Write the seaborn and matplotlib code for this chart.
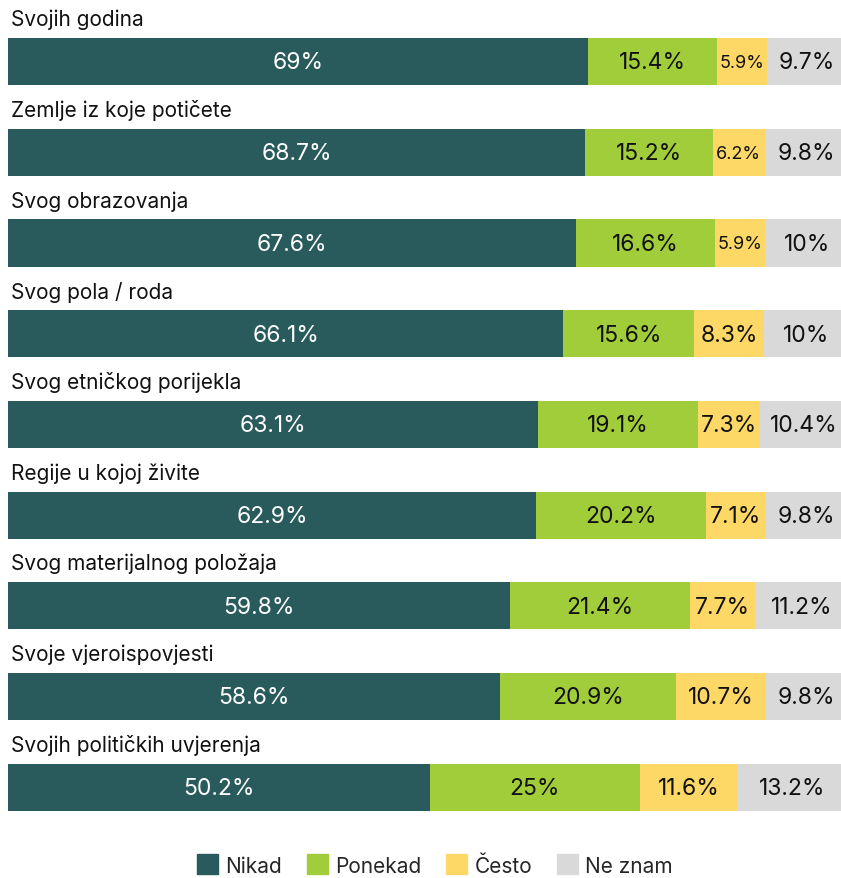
import numpy as np
import pandas as pd
import matplotlib
matplotlib.use("Agg")
import matplotlib.pyplot as plt
import matplotlib.patches as mpatches
import seaborn as sns

# ============================================
# DATA
# ============================================

categories = [
    "Svojih godina",
    "Zemlje iz koje potičete",
    "Svog obrazovanja",
    "Svog pola / roda",
    "Svog etničkog porijekla",
    "Regije u kojoj živite",
    "Svog materijalnog položaja",
    "Svoje vjeroispovjesti",
    "Svojih političkih uvjerenja",
]
nikad = [69, 68.7, 67.6, 66.1, 63.1, 62.9, 59.8, 58.6, 50.2]
ponekad = [15.4, 15.2, 16.6, 15.6, 19.1, 20.2, 21.4, 20.9, 25]
cesto = [5.9, 6.2, 5.9, 8.3, 7.3, 7.1, 7.7, 10.7, 11.6]
ne_znam = [9.7, 9.8, 10, 10, 10.4, 9.8, 11.2, 9.8, 13.2]

series_names = ["Nikad", "Ponekad", "Često", "Ne znam"]
colors = ["#2a5b5c", "#a2cd3a", "#fed866", "#d9d9d9"]
text_colors = ["white", "#111111", "#111111", "#111111"]

# ============================================
# BUILD TABLE
# ============================================

df = pd.DataFrame({
    "category": categories,
    "Nikad": nikad,
    "Ponekad": ponekad,
    "Često": cesto,
    "Ne znam": ne_znam,
})
cum = df[series_names].cumsum(axis=1)
starts = cum - df[series_names]

sns.set_style("white")
plt.rcParams["font.family"] = ["Inter", "DejaVu Sans"]

W, H = 841, 879
fig = plt.figure(figsize=(W / 100, H / 100), dpi=100)
ax = fig.add_axes([8 / W, (H - 840) / H, 840 / W, 840 / H])

# stacked bars: draw cumulative totals from the back to the front
for name, color in reversed(list(zip(series_names, colors))):
    sns.barplot(
        x=cum[name],
        y=df["category"],
        orient="h",
        color=color,
        width=0.52,
        saturation=1,
        linewidth=0,
        ax=ax,
    )

# value labels
for i in range(len(df)):
    for name, tc in zip(series_names, text_colors):
        v = df.loc[i, name]
        center = starts.loc[i, name] + v / 2
        label = f"{v:g}%"
        fs = 13 if v < 7 else 16.5
        ax.text(center, i + 0.01, label, ha="center", va="center",
                color=tc, fontsize=fs)

# category labels above bars
for i, cat in enumerate(categories):
    ax.text(0.3, i - 0.47, cat, ha="left", va="center",
            color="#111111", fontsize=15)

ax.set_xlim(0, 100)
ax.set_ylim(8.57, -0.689)
ax.set_xlabel("")
ax.set_ylabel("")
ax.set_xticks([])
ax.set_yticks([])
sns.despine(ax=ax, left=True, bottom=True)

handles = [mpatches.Patch(color=c, label=n) for n, c in zip(series_names, colors)]
fig.legend(
    handles=handles,
    loc="center",
    bbox_to_anchor=(435 / W, 1 - 866 / H),
    ncol=4,
    frameon=False,
    fontsize=15,
    handlelength=1.0,
    handleheight=1.1,
    handletextpad=0.35,
    columnspacing=1.2,
)

fig.savefig("out.png", dpi=100)
